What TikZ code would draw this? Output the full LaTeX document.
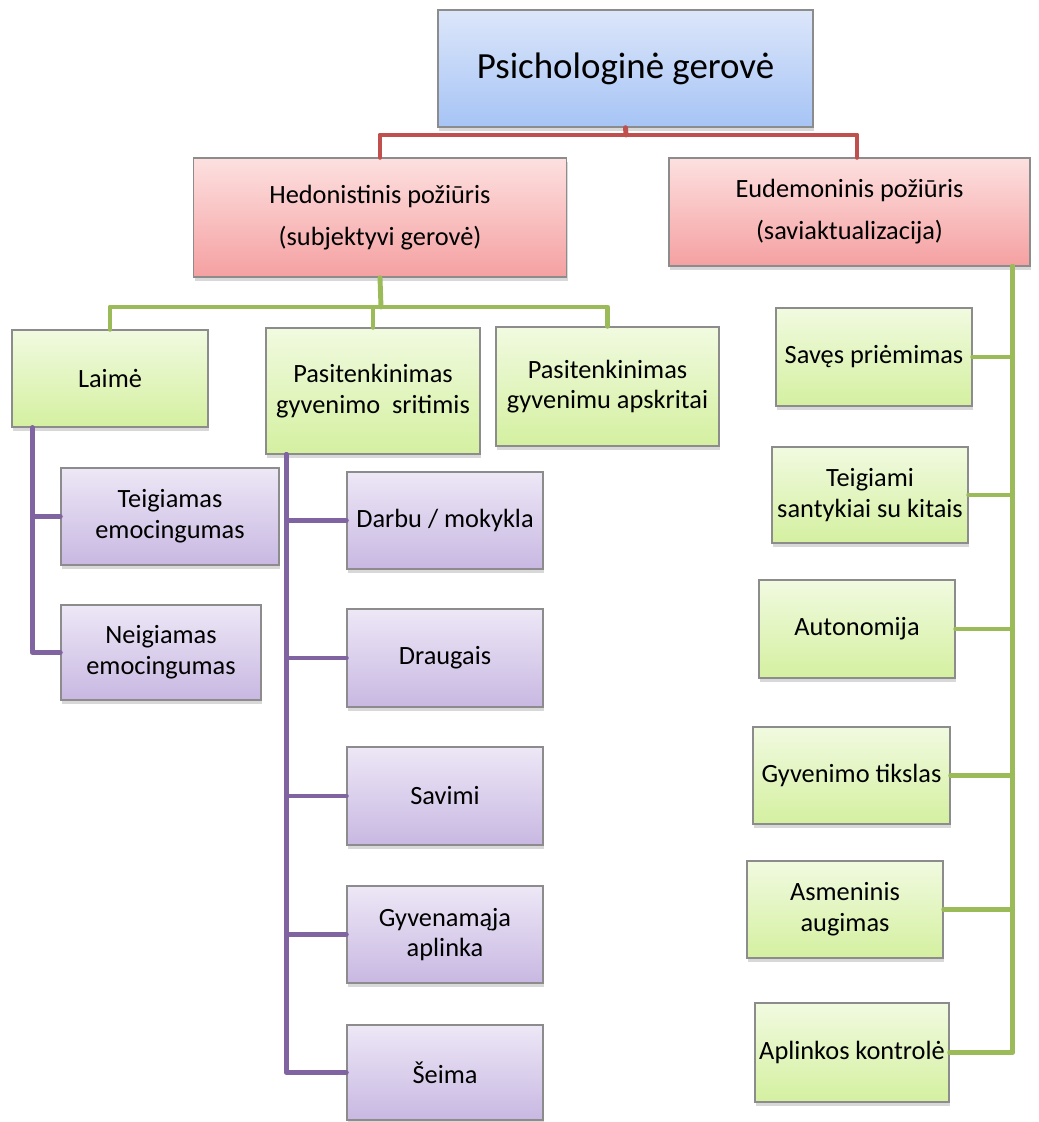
\documentclass[tikz,border=0pt]{standalone}
\usepackage{fontspec}
\setmainfont{Carlito}
\usetikzlibrary{shadows}
\definecolor{bordc}{RGB}{140,140,140}
\definecolor{bluetop}{RGB}{220,230,250}
\definecolor{bluebot}{RGB}{166,196,245}
\definecolor{redtop}{RGB}{253,224,224}
\definecolor{redbot}{RGB}{245,160,161}
\definecolor{greentop}{RGB}{241,250,224}
\definecolor{greenbot}{RGB}{212,240,160}
\definecolor{purptop}{RGB}{237,231,246}
\definecolor{purpbot}{RGB}{200,184,226}
\definecolor{redln}{RGB}{192,80,77}
\definecolor{greenln}{RGB}{155,187,89}
\definecolor{purpln}{RGB}{128,100,162}
\newcommand\mkbox[7]{\node[#6, minimum width=#4*0.02cm, minimum height=#5*0.02cm] (#1) at (#2,#3) {#7};}
\begin{document}
\begin{tikzpicture}[x=0.02cm,y=-0.02cm,
  basebox/.style={draw=bordc, line width=0.8pt, inner sep=0pt, align=center,
    font=\fontsize{15}{17.5}\selectfont,
    drop shadow={opacity=0.3, shadow xshift=0.6pt, shadow yshift=-2pt}},
  bluebox/.style={basebox, top color=bluetop, bottom color=bluebot, font=\fontsize{21}{25}\selectfont},
  redbox/.style={basebox, top color=redtop, bottom color=redbot, font=\fontsize{15}{24}\selectfont},
  greenbox/.style={basebox, top color=greentop, bottom color=greenbot},
  purpbox/.style={basebox, top color=purptop, bottom color=purpbot},
  conn/.style={line width=2.8pt, line join=round, line cap=round},
  redc/.style={conn, draw=redln},
  greenc/.style={conn, draw=greenln},
  purpc/.style={conn, draw=purpln}]
\useasboundingbox (0,0) rectangle (1038,1122);
\fill[white] (0,0) rectangle (1038,1122);

\coordinate (rj) at (626,135);
\coordinate (gj) at (381,307);

\mkbox{top}{625.5}{68.5}{375}{117}{bluebox}{Psichologinė gerovė}
\mkbox{hed}{380}{217.5}{373}{119}{redbox}{Hedonistinis požiūris\\(subjektyvi gerovė)}
\mkbox{eud}{849.5}{212}{361}{108}{redbox}{Eudemoninis požiūris\\(saviaktualizacija)}

\mkbox{laime}{110}{378.5}{196}{97}{greenbox}{Laimė}
\mkbox{psrit}{373}{391}{214}{126}{greenbox}{Pasitenkinimas\\gyvenimo\ \ sritimis}
\mkbox{papsk}{607.5}{386.5}{223}{119}{greenbox}{Pasitenkinimas\\gyvenimu apskritai}

\mkbox{teig}{170}{516.5}{218}{97}{purpbox}{Teigiamas\\emocingumas}
\mkbox{neig}{161}{652.5}{200}{95}{purpbox}{Neigiamas\\emocingumas}

\mkbox{darbu}{445}{520.5}{196}{97}{purpbox}{Darbu / mokykla}
\mkbox{draug}{445}{658}{196}{98}{purpbox}{Draugais}
\mkbox{savimi}{445}{796}{196}{98}{purpbox}{Savimi}
\mkbox{gyven}{445}{934.5}{196}{97}{purpbox}{Gyvenamąja\\aplinka}
\mkbox{seima}{445}{1072.5}{196}{95}{purpbox}{Šeima}

\mkbox{saves}{874}{357}{196}{98}{greenbox}{Savęs priėmimas}
\mkbox{santyk}{870}{495}{196}{96}{greenbox}{Teigiami\\santykiai su kitais}
\mkbox{auton}{857}{629}{196}{98}{greenbox}{Autonomija}
\mkbox{tikslas}{851.5}{775.5}{197}{97}{greenbox}{Gyvenimo tikslas}
\mkbox{asmen}{845}{909.5}{196}{97}{greenbox}{Asmeninis\\augimas}
\mkbox{aplink}{852}{1052.5}{194}{99}{greenbox}{Aplinkos kontrolė}

% red connectors
\draw[redc] (top.south) -- (rj);
\draw[redc] (rj) -| (hed.north);
\draw[redc] (rj) -| ([xshift=0.15cm]eud.north);

% green connectors (hedonistinis)
\draw[greenc] (hed.south) -- (gj);
\draw[greenc] (gj) -| (laime.north);
\draw[greenc] (gj) -| (psrit.north);
\draw[greenc] (gj) -| (papsk.north);

% purple connectors (laime)
\draw[purpc] (laime.south west) ++(21,0) |- (teig.west);
\draw[purpc] (laime.south west) ++(21,0) |- (neig.west);

% purple connectors (sritimis)
\foreach \t in {darbu,draug,savimi,gyven,seima}
  \draw[purpc] (psrit.south west) ++(21,0) |- (\t.west);

% green connectors (eudemoninis)
\foreach \t in {saves,santyk,auton,tikslas,asmen,aplink}
  \draw[greenc] (eud.south east) ++(-18,0) |- (\t.east);
\end{tikzpicture}
\end{document}
